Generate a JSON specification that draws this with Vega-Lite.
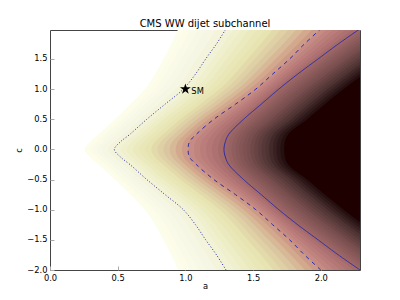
{
"$schema": "https://vega.github.io/schema/vega-lite/v6.json",
"width": 310, "height": 240,
"autosize": {"type": "none"},
"padding": {"left": 50, "top": 30, "right": 40, "bottom": 30},
"title": {"text": "CMS WW dijet subchannel", "fontSize": 10, "fontWeight": "normal", "font": "DejaVu Sans", "color": "black", "offset": 1, "anchor": "middle"},
"datasets": {
"bands": [
{"t":0.03,"c":-2,"a":0.948},{"t":0.03,"c":-1.5,"a":0.838},{"t":0.03,"c":-1,"a":0.701},{"t":0.03,"c":-0.75,"a":0.594},{"t":0.03,"c":-0.5,"a":0.479},{"t":0.03,"c":-0.25,"a":0.358},{"t":0.03,"c":-0.125,"a":0.296},{"t":0.03,"c":0,"a":0.255},{"t":0.03,"c":0.125,"a":0.296},{"t":0.03,"c":0.25,"a":0.358},{"t":0.03,"c":0.5,"a":0.479},{"t":0.03,"c":0.75,"a":0.594},{"t":0.03,"c":1,"a":0.701},{"t":0.03,"c":1.5,"a":0.838},{"t":0.03,"c":2,"a":0.948},
{"t":0.045,"c":-2,"a":0.992},{"t":0.045,"c":-1.5,"a":0.877},{"t":0.045,"c":-1,"a":0.737},{"t":0.045,"c":-0.75,"a":0.626},{"t":0.045,"c":-0.5,"a":0.509},{"t":0.045,"c":-0.25,"a":0.387},{"t":0.045,"c":-0.125,"a":0.324},{"t":0.045,"c":0,"a":0.283},{"t":0.045,"c":0.125,"a":0.324},{"t":0.045,"c":0.25,"a":0.387},{"t":0.045,"c":0.5,"a":0.509},{"t":0.045,"c":0.75,"a":0.626},{"t":0.045,"c":1,"a":0.737},{"t":0.045,"c":1.5,"a":0.877},{"t":0.045,"c":2,"a":0.992},
{"t":0.06,"c":-2,"a":1.036},{"t":0.06,"c":-1.5,"a":0.916},{"t":0.06,"c":-1,"a":0.772},{"t":0.06,"c":-0.75,"a":0.658},{"t":0.06,"c":-0.5,"a":0.538},{"t":0.06,"c":-0.25,"a":0.416},{"t":0.06,"c":-0.125,"a":0.352},{"t":0.06,"c":0,"a":0.31},{"t":0.06,"c":0.125,"a":0.352},{"t":0.06,"c":0.25,"a":0.416},{"t":0.06,"c":0.5,"a":0.538},{"t":0.06,"c":0.75,"a":0.658},{"t":0.06,"c":1,"a":0.772},{"t":0.06,"c":1.5,"a":0.916},{"t":0.06,"c":2,"a":1.036},
{"t":0.08,"c":-2,"a":1.095},{"t":0.08,"c":-1.5,"a":0.968},{"t":0.08,"c":-1,"a":0.82},{"t":0.08,"c":-0.75,"a":0.701},{"t":0.08,"c":-0.5,"a":0.578},{"t":0.08,"c":-0.25,"a":0.455},{"t":0.08,"c":-0.125,"a":0.39},{"t":0.08,"c":0,"a":0.347},{"t":0.08,"c":0.125,"a":0.39},{"t":0.08,"c":0.25,"a":0.455},{"t":0.08,"c":0.5,"a":0.578},{"t":0.08,"c":0.75,"a":0.701},{"t":0.08,"c":1,"a":0.82},{"t":0.08,"c":1.5,"a":0.968},{"t":0.08,"c":2,"a":1.095},
{"t":0.10,"c":-2,"a":1.153},{"t":0.10,"c":-1.5,"a":1.02},{"t":0.10,"c":-1,"a":0.867},{"t":0.10,"c":-0.75,"a":0.743},{"t":0.10,"c":-0.5,"a":0.617},{"t":0.10,"c":-0.25,"a":0.493},{"t":0.10,"c":-0.125,"a":0.427},{"t":0.10,"c":0,"a":0.383},{"t":0.10,"c":0.125,"a":0.427},{"t":0.10,"c":0.25,"a":0.493},{"t":0.10,"c":0.5,"a":0.617},{"t":0.10,"c":0.75,"a":0.743},{"t":0.10,"c":1,"a":0.867},{"t":0.10,"c":1.5,"a":1.02},{"t":0.10,"c":2,"a":1.153},
{"t":0.125,"c":-2,"a":1.227},{"t":0.125,"c":-1.5,"a":1.085},{"t":0.125,"c":-1,"a":0.926},{"t":0.125,"c":-0.75,"a":0.797},{"t":0.125,"c":-0.5,"a":0.666},{"t":0.125,"c":-0.25,"a":0.542},{"t":0.125,"c":-0.125,"a":0.474},{"t":0.125,"c":0,"a":0.429},{"t":0.125,"c":0.125,"a":0.474},{"t":0.125,"c":0.25,"a":0.542},{"t":0.125,"c":0.5,"a":0.666},{"t":0.125,"c":0.75,"a":0.797},{"t":0.125,"c":1,"a":0.926},{"t":0.125,"c":1.5,"a":1.085},{"t":0.125,"c":2,"a":1.227},
{"t":0.15,"c":-2,"a":1.30},{"t":0.15,"c":-1.5,"a":1.15},{"t":0.15,"c":-1,"a":0.985},{"t":0.15,"c":-0.75,"a":0.85},{"t":0.15,"c":-0.5,"a":0.715},{"t":0.15,"c":-0.25,"a":0.59},{"t":0.15,"c":-0.125,"a":0.52},{"t":0.15,"c":0,"a":0.475},{"t":0.15,"c":0.125,"a":0.52},{"t":0.15,"c":0.25,"a":0.59},{"t":0.15,"c":0.5,"a":0.715},{"t":0.15,"c":0.75,"a":0.85},{"t":0.15,"c":1,"a":0.985},{"t":0.15,"c":1.5,"a":1.15},{"t":0.15,"c":2,"a":1.30},
{"t":0.181,"c":-2,"a":1.359},{"t":0.181,"c":-1.5,"a":1.202},{"t":0.181,"c":-1,"a":1.03},{"t":0.181,"c":-0.75,"a":0.894},{"t":0.181,"c":-0.5,"a":0.757},{"t":0.181,"c":-0.25,"a":0.631},{"t":0.181,"c":-0.125,"a":0.563},{"t":0.181,"c":0,"a":0.521},{"t":0.181,"c":0.125,"a":0.563},{"t":0.181,"c":0.25,"a":0.631},{"t":0.181,"c":0.5,"a":0.757},{"t":0.181,"c":0.75,"a":0.894},{"t":0.181,"c":1,"a":1.03},{"t":0.181,"c":1.5,"a":1.202},{"t":0.181,"c":2,"a":1.359},
{"t":0.212,"c":-2,"a":1.417},{"t":0.212,"c":-1.5,"a":1.253},{"t":0.212,"c":-1,"a":1.074},{"t":0.212,"c":-0.75,"a":0.937},{"t":0.212,"c":-0.5,"a":0.798},{"t":0.212,"c":-0.25,"a":0.672},{"t":0.212,"c":-0.125,"a":0.605},{"t":0.212,"c":0,"a":0.566},{"t":0.212,"c":0.125,"a":0.605},{"t":0.212,"c":0.25,"a":0.672},{"t":0.212,"c":0.5,"a":0.798},{"t":0.212,"c":0.75,"a":0.937},{"t":0.212,"c":1,"a":1.074},{"t":0.212,"c":1.5,"a":1.253},{"t":0.212,"c":2,"a":1.417},
{"t":0.243,"c":-2,"a":1.475},{"t":0.243,"c":-1.5,"a":1.305},{"t":0.243,"c":-1,"a":1.119},{"t":0.243,"c":-0.75,"a":0.98},{"t":0.243,"c":-0.5,"a":0.839},{"t":0.243,"c":-0.25,"a":0.713},{"t":0.243,"c":-0.125,"a":0.648},{"t":0.243,"c":0,"a":0.612},{"t":0.243,"c":0.125,"a":0.648},{"t":0.243,"c":0.25,"a":0.713},{"t":0.243,"c":0.5,"a":0.839},{"t":0.243,"c":0.75,"a":0.98},{"t":0.243,"c":1,"a":1.119},{"t":0.243,"c":1.5,"a":1.305},{"t":0.243,"c":2,"a":1.475},
{"t":0.273,"c":-2,"a":1.533},{"t":0.273,"c":-1.5,"a":1.357},{"t":0.273,"c":-1,"a":1.163},{"t":0.273,"c":-0.75,"a":1.023},{"t":0.273,"c":-0.5,"a":0.88},{"t":0.273,"c":-0.25,"a":0.753},{"t":0.273,"c":-0.125,"a":0.69},{"t":0.273,"c":0,"a":0.657},{"t":0.273,"c":0.125,"a":0.69},{"t":0.273,"c":0.25,"a":0.753},{"t":0.273,"c":0.5,"a":0.88},{"t":0.273,"c":0.75,"a":1.023},{"t":0.273,"c":1,"a":1.163},{"t":0.273,"c":1.5,"a":1.357},{"t":0.273,"c":2,"a":1.533},
{"t":0.304,"c":-2,"a":1.592},{"t":0.304,"c":-1.5,"a":1.409},{"t":0.304,"c":-1,"a":1.208},{"t":0.304,"c":-0.75,"a":1.067},{"t":0.304,"c":-0.5,"a":0.922},{"t":0.304,"c":-0.25,"a":0.794},{"t":0.304,"c":-0.125,"a":0.733},{"t":0.304,"c":0,"a":0.703},{"t":0.304,"c":0.125,"a":0.733},{"t":0.304,"c":0.25,"a":0.794},{"t":0.304,"c":0.5,"a":0.922},{"t":0.304,"c":0.75,"a":1.067},{"t":0.304,"c":1,"a":1.208},{"t":0.304,"c":1.5,"a":1.409},{"t":0.304,"c":2,"a":1.592},
{"t":0.335,"c":-2,"a":1.65},{"t":0.335,"c":-1.5,"a":1.46},{"t":0.335,"c":-1,"a":1.253},{"t":0.335,"c":-0.75,"a":1.11},{"t":0.335,"c":-0.5,"a":0.963},{"t":0.335,"c":-0.25,"a":0.835},{"t":0.335,"c":-0.125,"a":0.775},{"t":0.335,"c":0,"a":0.748},{"t":0.335,"c":0.125,"a":0.775},{"t":0.335,"c":0.25,"a":0.835},{"t":0.335,"c":0.5,"a":0.963},{"t":0.335,"c":0.75,"a":1.11},{"t":0.335,"c":1,"a":1.253},{"t":0.335,"c":1.5,"a":1.46},{"t":0.335,"c":2,"a":1.65},
{"t":0.366,"c":-2,"a":1.709},{"t":0.366,"c":-1.5,"a":1.512},{"t":0.366,"c":-1,"a":1.298},{"t":0.366,"c":-0.75,"a":1.154},{"t":0.366,"c":-0.5,"a":1.004},{"t":0.366,"c":-0.25,"a":0.876},{"t":0.366,"c":-0.125,"a":0.818},{"t":0.366,"c":0,"a":0.793},{"t":0.366,"c":0.125,"a":0.818},{"t":0.366,"c":0.25,"a":0.876},{"t":0.366,"c":0.5,"a":1.004},{"t":0.366,"c":0.75,"a":1.154},{"t":0.366,"c":1,"a":1.298},{"t":0.366,"c":1.5,"a":1.512},{"t":0.366,"c":2,"a":1.709},
{"t":0.397,"c":-2,"a":1.767},{"t":0.397,"c":-1.5,"a":1.563},{"t":0.397,"c":-1,"a":1.342},{"t":0.397,"c":-0.75,"a":1.197},{"t":0.397,"c":-0.5,"a":1.045},{"t":0.397,"c":-0.25,"a":0.917},{"t":0.397,"c":-0.125,"a":0.86},{"t":0.397,"c":0,"a":0.838},{"t":0.397,"c":0.125,"a":0.86},{"t":0.397,"c":0.25,"a":0.917},{"t":0.397,"c":0.5,"a":1.045},{"t":0.397,"c":0.75,"a":1.197},{"t":0.397,"c":1,"a":1.342},{"t":0.397,"c":1.5,"a":1.563},{"t":0.397,"c":2,"a":1.767},
{"t":0.428,"c":-2,"a":1.825},{"t":0.428,"c":-1.5,"a":1.615},{"t":0.428,"c":-1,"a":1.387},{"t":0.428,"c":-0.75,"a":1.24},{"t":0.428,"c":-0.5,"a":1.087},{"t":0.428,"c":-0.25,"a":0.958},{"t":0.428,"c":-0.125,"a":0.903},{"t":0.428,"c":0,"a":0.884},{"t":0.428,"c":0.125,"a":0.903},{"t":0.428,"c":0.25,"a":0.958},{"t":0.428,"c":0.5,"a":1.087},{"t":0.428,"c":0.75,"a":1.24},{"t":0.428,"c":1,"a":1.387},{"t":0.428,"c":1.5,"a":1.615},{"t":0.428,"c":2,"a":1.825},
{"t":0.458,"c":-2,"a":1.883},{"t":0.458,"c":-1.5,"a":1.667},{"t":0.458,"c":-1,"a":1.431},{"t":0.458,"c":-0.75,"a":1.283},{"t":0.458,"c":-0.5,"a":1.128},{"t":0.458,"c":-0.25,"a":0.998},{"t":0.458,"c":-0.125,"a":0.945},{"t":0.458,"c":0,"a":0.929},{"t":0.458,"c":0.125,"a":0.945},{"t":0.458,"c":0.25,"a":0.998},{"t":0.458,"c":0.5,"a":1.128},{"t":0.458,"c":0.75,"a":1.283},{"t":0.458,"c":1,"a":1.431},{"t":0.458,"c":1.5,"a":1.667},{"t":0.458,"c":2,"a":1.883},
{"t":0.489,"c":-2,"a":1.942},{"t":0.489,"c":-1.5,"a":1.719},{"t":0.489,"c":-1,"a":1.476},{"t":0.489,"c":-0.75,"a":1.327},{"t":0.489,"c":-0.5,"a":1.169},{"t":0.489,"c":-0.25,"a":1.039},{"t":0.489,"c":-0.125,"a":0.988},{"t":0.489,"c":0,"a":0.975},{"t":0.489,"c":0.125,"a":0.988},{"t":0.489,"c":0.25,"a":1.039},{"t":0.489,"c":0.5,"a":1.169},{"t":0.489,"c":0.75,"a":1.327},{"t":0.489,"c":1,"a":1.476},{"t":0.489,"c":1.5,"a":1.719},{"t":0.489,"c":2,"a":1.942},
{"t":0.52,"c":-2,"a":2.0},{"t":0.52,"c":-1.5,"a":1.77},{"t":0.52,"c":-1,"a":1.52},{"t":0.52,"c":-0.75,"a":1.37},{"t":0.52,"c":-0.5,"a":1.21},{"t":0.52,"c":-0.25,"a":1.08},{"t":0.52,"c":-0.125,"a":1.03},{"t":0.52,"c":0,"a":1.02},{"t":0.52,"c":0.125,"a":1.03},{"t":0.52,"c":0.25,"a":1.08},{"t":0.52,"c":0.5,"a":1.21},{"t":0.52,"c":0.75,"a":1.37},{"t":0.52,"c":1,"a":1.52},{"t":0.52,"c":1.5,"a":1.77},{"t":0.52,"c":2,"a":2.0},
{"t":0.547,"c":-2,"a":2.049},{"t":0.547,"c":-1.5,"a":1.805},{"t":0.547,"c":-1,"a":1.549},{"t":0.547,"c":-0.75,"a":1.402},{"t":0.547,"c":-0.5,"a":1.247},{"t":0.547,"c":-0.25,"a":1.12},{"t":0.547,"c":-0.125,"a":1.074},{"t":0.547,"c":0,"a":1.064},{"t":0.547,"c":0.125,"a":1.074},{"t":0.547,"c":0.25,"a":1.12},{"t":0.547,"c":0.5,"a":1.247},{"t":0.547,"c":0.75,"a":1.402},{"t":0.547,"c":1,"a":1.549},{"t":0.547,"c":1.5,"a":1.805},{"t":0.547,"c":2,"a":2.049},
{"t":0.573,"c":-2,"a":2.097},{"t":0.573,"c":-1.5,"a":1.84},{"t":0.573,"c":-1,"a":1.577},{"t":0.573,"c":-0.75,"a":1.433},{"t":0.573,"c":-0.5,"a":1.283},{"t":0.573,"c":-0.25,"a":1.16},{"t":0.573,"c":-0.125,"a":1.118},{"t":0.573,"c":0,"a":1.108},{"t":0.573,"c":0.125,"a":1.118},{"t":0.573,"c":0.25,"a":1.16},{"t":0.573,"c":0.5,"a":1.283},{"t":0.573,"c":0.75,"a":1.433},{"t":0.573,"c":1,"a":1.577},{"t":0.573,"c":1.5,"a":1.84},{"t":0.573,"c":2,"a":2.097},
{"t":0.60,"c":-2,"a":2.145},{"t":0.60,"c":-1.5,"a":1.875},{"t":0.60,"c":-1,"a":1.605},{"t":0.60,"c":-0.75,"a":1.465},{"t":0.60,"c":-0.5,"a":1.32},{"t":0.60,"c":-0.25,"a":1.20},{"t":0.60,"c":-0.125,"a":1.163},{"t":0.60,"c":0,"a":1.153},{"t":0.60,"c":0.125,"a":1.163},{"t":0.60,"c":0.25,"a":1.20},{"t":0.60,"c":0.5,"a":1.32},{"t":0.60,"c":0.75,"a":1.465},{"t":0.60,"c":1,"a":1.605},{"t":0.60,"c":1.5,"a":1.875},{"t":0.60,"c":2,"a":2.145},
{"t":0.627,"c":-2,"a":2.193},{"t":0.627,"c":-1.5,"a":1.91},{"t":0.627,"c":-1,"a":1.633},{"t":0.627,"c":-0.75,"a":1.497},{"t":0.627,"c":-0.5,"a":1.357},{"t":0.627,"c":-0.25,"a":1.24},{"t":0.627,"c":-0.125,"a":1.207},{"t":0.627,"c":0,"a":1.197},{"t":0.627,"c":0.125,"a":1.207},{"t":0.627,"c":0.25,"a":1.24},{"t":0.627,"c":0.5,"a":1.357},{"t":0.627,"c":0.75,"a":1.497},{"t":0.627,"c":1,"a":1.633},{"t":0.627,"c":1.5,"a":1.91},{"t":0.627,"c":2,"a":2.193},
{"t":0.654,"c":-2,"a":2.242},{"t":0.654,"c":-1.5,"a":1.945},{"t":0.654,"c":-1,"a":1.662},{"t":0.654,"c":-0.75,"a":1.529},{"t":0.654,"c":-0.5,"a":1.394},{"t":0.654,"c":-0.25,"a":1.28},{"t":0.654,"c":-0.125,"a":1.251},{"t":0.654,"c":0,"a":1.241},{"t":0.654,"c":0.125,"a":1.251},{"t":0.654,"c":0.25,"a":1.28},{"t":0.654,"c":0.5,"a":1.394},{"t":0.654,"c":0.75,"a":1.529},{"t":0.654,"c":1,"a":1.662},{"t":0.654,"c":1.5,"a":1.945},{"t":0.654,"c":2,"a":2.242},
{"t":0.68,"c":-2,"a":2.29},{"t":0.68,"c":-1.5,"a":1.98},{"t":0.68,"c":-1,"a":1.69},{"t":0.68,"c":-0.75,"a":1.56},{"t":0.68,"c":-0.5,"a":1.43},{"t":0.68,"c":-0.25,"a":1.32},{"t":0.68,"c":-0.125,"a":1.295},{"t":0.68,"c":0,"a":1.285},{"t":0.68,"c":0.125,"a":1.295},{"t":0.68,"c":0.25,"a":1.32},{"t":0.68,"c":0.5,"a":1.43},{"t":0.68,"c":0.75,"a":1.56},{"t":0.68,"c":1,"a":1.69},{"t":0.68,"c":1.5,"a":1.98},{"t":0.68,"c":2,"a":2.29},
{"t":0.70,"c":-2,"a":2.32},{"t":0.70,"c":-1.5,"a":2.011},{"t":0.70,"c":-1,"a":1.72},{"t":0.70,"c":-0.75,"a":1.59},{"t":0.70,"c":-0.5,"a":1.46},{"t":0.70,"c":-0.25,"a":1.348},{"t":0.70,"c":-0.125,"a":1.323},{"t":0.70,"c":0,"a":1.313},{"t":0.70,"c":0.125,"a":1.323},{"t":0.70,"c":0.25,"a":1.348},{"t":0.70,"c":0.5,"a":1.46},{"t":0.70,"c":0.75,"a":1.59},{"t":0.70,"c":1,"a":1.72},{"t":0.70,"c":1.5,"a":2.011},{"t":0.70,"c":2,"a":2.32},
{"t":0.72,"c":-2,"a":2.35},{"t":0.72,"c":-1.5,"a":2.041},{"t":0.72,"c":-1,"a":1.75},{"t":0.72,"c":-0.75,"a":1.619},{"t":0.72,"c":-0.5,"a":1.489},{"t":0.72,"c":-0.25,"a":1.375},{"t":0.72,"c":-0.125,"a":1.35},{"t":0.72,"c":0,"a":1.341},{"t":0.72,"c":0.125,"a":1.35},{"t":0.72,"c":0.25,"a":1.375},{"t":0.72,"c":0.5,"a":1.489},{"t":0.72,"c":0.75,"a":1.619},{"t":0.72,"c":1,"a":1.75},{"t":0.72,"c":1.5,"a":2.041},{"t":0.72,"c":2,"a":2.35},
{"t":0.74,"c":-2,"a":2.38},{"t":0.74,"c":-1.5,"a":2.072},{"t":0.74,"c":-1,"a":1.78},{"t":0.74,"c":-0.75,"a":1.649},{"t":0.74,"c":-0.5,"a":1.519},{"t":0.74,"c":-0.25,"a":1.403},{"t":0.74,"c":-0.125,"a":1.378},{"t":0.74,"c":0,"a":1.369},{"t":0.74,"c":0.125,"a":1.378},{"t":0.74,"c":0.25,"a":1.403},{"t":0.74,"c":0.5,"a":1.519},{"t":0.74,"c":0.75,"a":1.649},{"t":0.74,"c":1,"a":1.78},{"t":0.74,"c":1.5,"a":2.072},{"t":0.74,"c":2,"a":2.38},
{"t":0.76,"c":-2,"a":2.41},{"t":0.76,"c":-1.5,"a":2.103},{"t":0.76,"c":-1,"a":1.81},{"t":0.76,"c":-0.75,"a":1.678},{"t":0.76,"c":-0.5,"a":1.548},{"t":0.76,"c":-0.25,"a":1.43},{"t":0.76,"c":-0.125,"a":1.405},{"t":0.76,"c":0,"a":1.396},{"t":0.76,"c":0.125,"a":1.405},{"t":0.76,"c":0.25,"a":1.43},{"t":0.76,"c":0.5,"a":1.548},{"t":0.76,"c":0.75,"a":1.678},{"t":0.76,"c":1,"a":1.81},{"t":0.76,"c":1.5,"a":2.103},{"t":0.76,"c":2,"a":2.41},
{"t":0.78,"c":-2,"a":2.44},{"t":0.78,"c":-1.5,"a":2.134},{"t":0.78,"c":-1,"a":1.84},{"t":0.78,"c":-0.75,"a":1.707},{"t":0.78,"c":-0.5,"a":1.577},{"t":0.78,"c":-0.25,"a":1.458},{"t":0.78,"c":-0.125,"a":1.433},{"t":0.78,"c":0,"a":1.424},{"t":0.78,"c":0.125,"a":1.433},{"t":0.78,"c":0.25,"a":1.458},{"t":0.78,"c":0.5,"a":1.577},{"t":0.78,"c":0.75,"a":1.707},{"t":0.78,"c":1,"a":1.84},{"t":0.78,"c":1.5,"a":2.134},{"t":0.78,"c":2,"a":2.44},
{"t":0.80,"c":-2,"a":2.47},{"t":0.80,"c":-1.5,"a":2.164},{"t":0.80,"c":-1,"a":1.87},{"t":0.80,"c":-0.75,"a":1.736},{"t":0.80,"c":-0.5,"a":1.606},{"t":0.80,"c":-0.25,"a":1.485},{"t":0.80,"c":-0.125,"a":1.46},{"t":0.80,"c":0,"a":1.452},{"t":0.80,"c":0.125,"a":1.46},{"t":0.80,"c":0.25,"a":1.485},{"t":0.80,"c":0.5,"a":1.606},{"t":0.80,"c":0.75,"a":1.736},{"t":0.80,"c":1,"a":1.87},{"t":0.80,"c":1.5,"a":2.164},{"t":0.80,"c":2,"a":2.47},
{"t":0.82,"c":-2,"a":2.50},{"t":0.82,"c":-1.5,"a":2.195},{"t":0.82,"c":-1,"a":1.90},{"t":0.82,"c":-0.75,"a":1.766},{"t":0.82,"c":-0.5,"a":1.636},{"t":0.82,"c":-0.25,"a":1.513},{"t":0.82,"c":-0.125,"a":1.488},{"t":0.82,"c":0,"a":1.48},{"t":0.82,"c":0.125,"a":1.488},{"t":0.82,"c":0.25,"a":1.513},{"t":0.82,"c":0.5,"a":1.636},{"t":0.82,"c":0.75,"a":1.766},{"t":0.82,"c":1,"a":1.90},{"t":0.82,"c":1.5,"a":2.195},{"t":0.82,"c":2,"a":2.50},
{"t":0.84,"c":-2,"a":2.53},{"t":0.84,"c":-1.5,"a":2.225},{"t":0.84,"c":-1,"a":1.93},{"t":0.84,"c":-0.75,"a":1.795},{"t":0.84,"c":-0.5,"a":1.665},{"t":0.84,"c":-0.25,"a":1.54},{"t":0.84,"c":-0.125,"a":1.515},{"t":0.84,"c":0,"a":1.508},{"t":0.84,"c":0.125,"a":1.515},{"t":0.84,"c":0.25,"a":1.54},{"t":0.84,"c":0.5,"a":1.665},{"t":0.84,"c":0.75,"a":1.795},{"t":0.84,"c":1,"a":1.93},{"t":0.84,"c":1.5,"a":2.225},{"t":0.84,"c":2,"a":2.53},
{"t":0.86,"c":-2,"a":2.56},{"t":0.86,"c":-1.5,"a":2.256},{"t":0.86,"c":-1,"a":1.96},{"t":0.86,"c":-0.75,"a":1.825},{"t":0.86,"c":-0.5,"a":1.695},{"t":0.86,"c":-0.25,"a":1.568},{"t":0.86,"c":-0.125,"a":1.543},{"t":0.86,"c":0,"a":1.536},{"t":0.86,"c":0.125,"a":1.543},{"t":0.86,"c":0.25,"a":1.568},{"t":0.86,"c":0.5,"a":1.695},{"t":0.86,"c":0.75,"a":1.825},{"t":0.86,"c":1,"a":1.96},{"t":0.86,"c":1.5,"a":2.256},{"t":0.86,"c":2,"a":2.56},
{"t":0.88,"c":-2,"a":2.59},{"t":0.88,"c":-1.5,"a":2.286},{"t":0.88,"c":-1,"a":1.99},{"t":0.88,"c":-0.75,"a":1.854},{"t":0.88,"c":-0.5,"a":1.724},{"t":0.88,"c":-0.25,"a":1.595},{"t":0.88,"c":-0.125,"a":1.57},{"t":0.88,"c":0,"a":1.563},{"t":0.88,"c":0.125,"a":1.57},{"t":0.88,"c":0.25,"a":1.595},{"t":0.88,"c":0.5,"a":1.724},{"t":0.88,"c":0.75,"a":1.854},{"t":0.88,"c":1,"a":1.99},{"t":0.88,"c":1.5,"a":2.286},{"t":0.88,"c":2,"a":2.59},
{"t":0.90,"c":-2,"a":2.62},{"t":0.90,"c":-1.5,"a":2.317},{"t":0.90,"c":-1,"a":2.02},{"t":0.90,"c":-0.75,"a":1.884},{"t":0.90,"c":-0.5,"a":1.754},{"t":0.90,"c":-0.25,"a":1.623},{"t":0.90,"c":-0.125,"a":1.598},{"t":0.90,"c":0,"a":1.591},{"t":0.90,"c":0.125,"a":1.598},{"t":0.90,"c":0.25,"a":1.623},{"t":0.90,"c":0.5,"a":1.754},{"t":0.90,"c":0.75,"a":1.884},{"t":0.90,"c":1,"a":2.02},{"t":0.90,"c":1.5,"a":2.317},{"t":0.90,"c":2,"a":2.62},
{"t":0.92,"c":-2,"a":2.65},{"t":0.92,"c":-1.5,"a":2.348},{"t":0.92,"c":-1,"a":2.05},{"t":0.92,"c":-0.75,"a":1.913},{"t":0.92,"c":-0.5,"a":1.783},{"t":0.92,"c":-0.25,"a":1.65},{"t":0.92,"c":-0.125,"a":1.625},{"t":0.92,"c":0,"a":1.619},{"t":0.92,"c":0.125,"a":1.625},{"t":0.92,"c":0.25,"a":1.65},{"t":0.92,"c":0.5,"a":1.783},{"t":0.92,"c":0.75,"a":1.913},{"t":0.92,"c":1,"a":2.05},{"t":0.92,"c":1.5,"a":2.348},{"t":0.92,"c":2,"a":2.65},
{"t":0.94,"c":-2,"a":2.68},{"t":0.94,"c":-1.5,"a":2.379},{"t":0.94,"c":-1,"a":2.08},{"t":0.94,"c":-0.75,"a":1.942},{"t":0.94,"c":-0.5,"a":1.812},{"t":0.94,"c":-0.25,"a":1.678},{"t":0.94,"c":-0.125,"a":1.653},{"t":0.94,"c":0,"a":1.647},{"t":0.94,"c":0.125,"a":1.653},{"t":0.94,"c":0.25,"a":1.678},{"t":0.94,"c":0.5,"a":1.812},{"t":0.94,"c":0.75,"a":1.942},{"t":0.94,"c":1,"a":2.08},{"t":0.94,"c":1.5,"a":2.379},{"t":0.94,"c":2,"a":2.68},
{"t":0.96,"c":-2,"a":2.71},{"t":0.96,"c":-1.5,"a":2.409},{"t":0.96,"c":-1,"a":2.11},{"t":0.96,"c":-0.75,"a":1.971},{"t":0.96,"c":-0.5,"a":1.841},{"t":0.96,"c":-0.25,"a":1.705},{"t":0.96,"c":-0.125,"a":1.68},{"t":0.96,"c":0,"a":1.674},{"t":0.96,"c":0.125,"a":1.68},{"t":0.96,"c":0.25,"a":1.705},{"t":0.96,"c":0.5,"a":1.841},{"t":0.96,"c":0.75,"a":1.971},{"t":0.96,"c":1,"a":2.11},{"t":0.96,"c":1.5,"a":2.409},{"t":0.96,"c":2,"a":2.71},
{"t":0.98,"c":-2,"a":2.74},{"t":0.98,"c":-1.5,"a":2.44},{"t":0.98,"c":-1,"a":2.14},{"t":0.98,"c":-0.75,"a":2.001},{"t":0.98,"c":-0.5,"a":1.871},{"t":0.98,"c":-0.25,"a":1.733},{"t":0.98,"c":-0.125,"a":1.708},{"t":0.98,"c":0,"a":1.702},{"t":0.98,"c":0.125,"a":1.708},{"t":0.98,"c":0.25,"a":1.733},{"t":0.98,"c":0.5,"a":1.871},{"t":0.98,"c":0.75,"a":2.001},{"t":0.98,"c":1,"a":2.14},{"t":0.98,"c":1.5,"a":2.44},{"t":0.98,"c":2,"a":2.74},
{"t":1.0,"c":-2,"a":2.77},{"t":1.0,"c":-1.5,"a":2.47},{"t":1.0,"c":-1,"a":2.17},{"t":1.0,"c":-0.75,"a":2.03},{"t":1.0,"c":-0.5,"a":1.90},{"t":1.0,"c":-0.25,"a":1.76},{"t":1.0,"c":-0.125,"a":1.735},{"t":1.0,"c":0,"a":1.73},{"t":1.0,"c":0.125,"a":1.735},{"t":1.0,"c":0.25,"a":1.76},{"t":1.0,"c":0.5,"a":1.90},{"t":1.0,"c":0.75,"a":2.03},{"t":1.0,"c":1,"a":2.17},{"t":1.0,"c":1.5,"a":2.47},{"t":1.0,"c":2,"a":2.77}
],
"lines": [
{"k":"dotted","c":-2,"a":1.30},{"k":"dotted","c":-1.75,"a":1.23},{"k":"dotted","c":-1.5,"a":1.15},{"k":"dotted","c":-1.25,"a":1.075},{"k":"dotted","c":-1,"a":0.985},{"k":"dotted","c":-0.75,"a":0.85},{"k":"dotted","c":-0.5,"a":0.715},{"k":"dotted","c":-0.25,"a":0.59},{"k":"dotted","c":-0.125,"a":0.52},{"k":"dotted","c":0,"a":0.475},{"k":"dotted","c":0.125,"a":0.52},{"k":"dotted","c":0.25,"a":0.59},{"k":"dotted","c":0.5,"a":0.715},{"k":"dotted","c":0.75,"a":0.85},{"k":"dotted","c":1,"a":0.985},{"k":"dotted","c":1.25,"a":1.075},{"k":"dotted","c":1.5,"a":1.15},{"k":"dotted","c":1.75,"a":1.23},{"k":"dotted","c":2,"a":1.30},
{"k":"dashed","c":-2,"a":2.0},{"k":"dashed","c":-1.75,"a":1.88},{"k":"dashed","c":-1.5,"a":1.77},{"k":"dashed","c":-1.25,"a":1.645},{"k":"dashed","c":-1,"a":1.52},{"k":"dashed","c":-0.75,"a":1.37},{"k":"dashed","c":-0.5,"a":1.21},{"k":"dashed","c":-0.25,"a":1.08},{"k":"dashed","c":-0.125,"a":1.03},{"k":"dashed","c":0,"a":1.02},{"k":"dashed","c":0.125,"a":1.03},{"k":"dashed","c":0.25,"a":1.08},{"k":"dashed","c":0.5,"a":1.21},{"k":"dashed","c":0.75,"a":1.37},{"k":"dashed","c":1,"a":1.52},{"k":"dashed","c":1.25,"a":1.645},{"k":"dashed","c":1.5,"a":1.77},{"k":"dashed","c":1.75,"a":1.88},{"k":"dashed","c":2,"a":2.0},
{"k":"solid","c":-2,"a":2.29},{"k":"solid","c":-1.75,"a":2.13},{"k":"solid","c":-1.5,"a":1.98},{"k":"solid","c":-1.25,"a":1.83},{"k":"solid","c":-1,"a":1.69},{"k":"solid","c":-0.75,"a":1.56},{"k":"solid","c":-0.5,"a":1.43},{"k":"solid","c":-0.25,"a":1.32},{"k":"solid","c":-0.125,"a":1.295},{"k":"solid","c":0,"a":1.285},{"k":"solid","c":0.125,"a":1.295},{"k":"solid","c":0.25,"a":1.32},{"k":"solid","c":0.5,"a":1.43},{"k":"solid","c":0.75,"a":1.56},{"k":"solid","c":1,"a":1.69},{"k":"solid","c":1.25,"a":1.83},{"k":"solid","c":1.5,"a":1.98},{"k":"solid","c":1.75,"a":2.13},{"k":"solid","c":2,"a":2.29}
],
"pts": [{"a":1.0,"c":1.0,"label":"SM"}]
},
"encoding": {
  "y": {"field": "c", "type": "quantitative", "scale": {"domain": [-2, 1.98], "nice": false, "zero": false},
        "axis": {"values": [-2, -1.5, -1, -0.5, 0, 0.5, 1, 1.5], "format": ".1f", "title": "c", "titlePadding": 3}},
  "x": {"field": "a", "type": "quantitative", "scale": {"domain": [0, 2.29], "nice": false, "zero": false},
        "axis": {"values": [0, 0.5, 1, 1.5, 2], "format": ".1f", "title": "a", "titlePadding": 0}}
},
"layer": [
{"data": {"name": "bands"},
 "mark": {"type": "area", "orient": "horizontal", "clip": true, "interpolate": "monotone"},
 "encoding": {
  "x2": {"datum": 2.6},
  "detail": {"field": "t", "type": "quantitative"},
  "color": {"field": "t", "type": "quantitative", "legend": null,
            "scale": {"domain": [0, 0.1, 0.15, 0.2, 0.3, 0.4, 0.52, 0.6, 0.68, 0.8, 0.9, 1.0],
                      "range": ["#ffffff", "#f6f6e4", "#f2f2d6", "#eeeec9", "#e7e5b2", "#dac6a1", "#c68b84", "#b57676", "#9d6666", "#784e4e", "#4e3333", "#1e0000"]}}
 }},
{"data": {"name": "lines"},
 "mark": {"type": "line", "clip": true, "interpolate": "catmull-rom", "strokeWidth": 1, "color": "#2a2aa8"},
 "encoding": {
  "order": {"field": "c", "type": "quantitative"},
  "detail": {"field": "k"},
  "strokeDash": {"field": "k", "type": "nominal", "legend": null,
                 "scale": {"domain": ["dotted", "dashed", "solid"], "range": [[1, 2], [4, 4], [1, 0]]}}
 }},
{"data": {"name": "pts"},
 "mark": {"type": "point", "filled": true, "color": "black", "opacity": 1, "size": 130,
          "shape": "M0,-1L0.2245,-0.309L0.951,-0.309L0.363,0.118L0.588,0.809L0,0.382L-0.588,0.809L-0.363,0.118L-0.951,-0.309L-0.2245,-0.309Z"}},
{"data": {"name": "pts"},
 "mark": {"type": "text", "align": "left", "baseline": "middle", "dx": 6, "dy": 2.5, "fontSize": 8.3, "font": "DejaVu Sans", "color": "black"},
 "encoding": {
  "text": {"field": "label"}
 }}
],
"config": {
 "view": {"stroke": "#444444", "strokeWidth": 1},
 "axis": {"domain": false, "grid": false, "tickSize": -4, "tickColor": "#aaaaaa", "tickWidth": 1, "labelPadding": 7,
          "labelFont": "DejaVu Sans", "labelFontSize": 8.3, "labelColor": "black", "labelFlush": false, "labelOverlap": false, "labelBound": false,
          "titleFont": "DejaVu Sans", "titleFontSize": 8.3, "titleFontWeight": "normal", "titleColor": "black"}
}
}
